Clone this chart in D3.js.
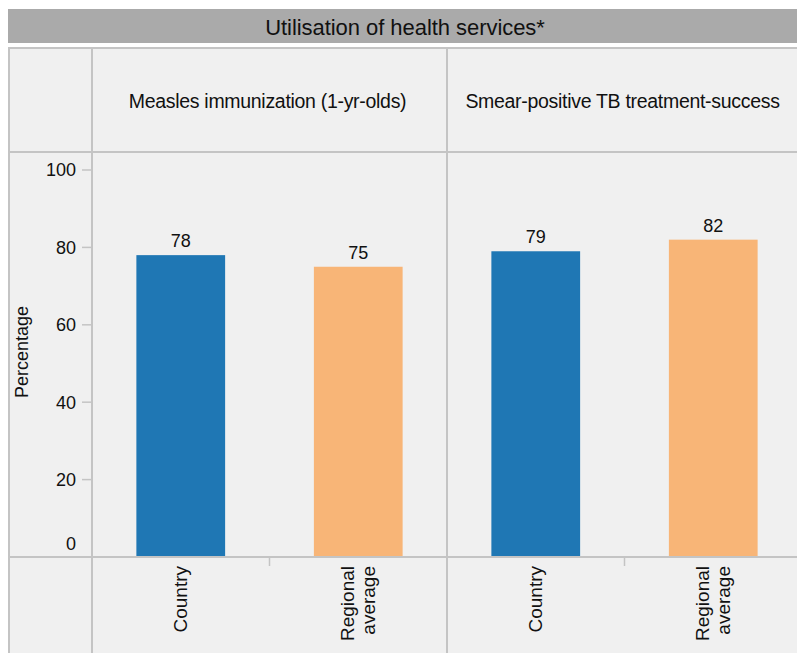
<!DOCTYPE html>
<html>
<head>
<meta charset="utf-8">
<script src="https://cdn.jsdelivr.net/npm/d3@7"></script>
<style>
  body { margin: 0; background: #fff; }
  text { font-family: "Liberation Sans", Arial, sans-serif; fill: #111; }
</style>
</head>
<body>
<div id="chart"></div>
<script>
(function() {
    var width = 797,
        height = 653;

    // data
    var title = 'Utilisation of health services*';
    var panels = ['Measles immunization (1-yr-olds)', 'Smear-positive TB treatment-success'];
    var categories = ['Country', 'Regional average'];
    var values = [[78, 75], [79, 82]];
    var colors = ['#1f77b4', '#f8b577'];
    var yTicks = [0, 20, 40, 60, 80, 100];

    var line_color = '#c4c4c4',
        bg = '#f0f0f0',
        left = 8,
        axis_x = 92,
        panel_w = 355,
        grid_top = 48,
        head_bottom = 152,
        plot_bottom = 557;

    var svg = d3.select('#chart').append('svg')
        .attr('width', width)
        .attr('height', height);

    // background
    svg.append('rect')
        .attr('x', left).attr('y', grid_top)
        .attr('width', width - left).attr('height', height - grid_top)
        .attr('fill', bg);

    // title bar
    svg.append('rect')
        .attr('x', left).attr('y', 9)
        .attr('width', width - left).attr('height', 34)
        .attr('fill', '#aaaaaa');
    svg.append('text')
        .attr('x', 405).attr('y', 27).attr('dy', '0.35em')
        .attr('text-anchor', 'middle')
        .style('font-size', '22px')
        .style('letter-spacing', '-0.05px')
        .text(title);

    var y = d3.scaleLinear().domain([0, 100]).range([plot_bottom, 170]);
    var panelX = d3.scaleBand().domain(panels).range([axis_x, axis_x + panel_w * panels.length]);

    // y axis ticks + labels
    yTicks.forEach(function(t) {
        svg.append('line')
            .attr('x1', axis_x - 10).attr('x2', axis_x)
            .attr('y1', y(t)).attr('y2', y(t))
            .attr('stroke', line_color).attr('stroke-width', 1.5);
        svg.append('text')
            .attr('x', 76)
            .attr('y', t === 0 ? y(t) - 13 : y(t))
            .attr('dy', '0.35em')
            .attr('text-anchor', 'end')
            .style('font-size', '18px')
            .text(t);
    });

    svg.append('text')
        .attr('transform', 'translate(22,352) rotate(-90)')
        .attr('dy', '0.35em')
        .attr('text-anchor', 'middle')
        .style('font-size', '18px')
        .text('Percentage');

    // panels
    panels.forEach(function(p, pi) {
        var x0 = panelX(p);
        var x = d3.scaleBand().domain(categories)
            .range([x0, x0 + panelX.bandwidth()])
            .paddingInner(0.5).paddingOuter(0.25);

        svg.append('text')
            .attr('x', x0 + panelX.bandwidth() / 2 - 2)
            .attr('y', 101).attr('dy', '0.35em')
            .attr('text-anchor', 'middle')
            .style('font-size', '19.5px')
            .style('letter-spacing', '-0.3px')
            .text(p);

        categories.forEach(function(c, ci) {
            var v = values[pi][ci];
            svg.append('rect')
                .attr('x', x(c)).attr('y', y(v))
                .attr('width', x.bandwidth()).attr('height', y(0) - y(v))
                .attr('fill', colors[ci]);
            svg.append('text')
                .attr('x', x(c) + x.bandwidth() / 2)
                .attr('y', y(v) - 8)
                .attr('text-anchor', 'middle')
                .style('font-size', '18px')
                .text(v);

            // category label, rotated
            var words = c.split(' ');
            var cx = x(c) + x.bandwidth() / 2;
            var lab = svg.append('text')
                .attr('transform', 'translate(' + cx + ',' + (plot_bottom + 9) + ') rotate(-90)')
                .attr('text-anchor', 'end')
                .style('font-size', '19px');
            words.forEach(function(w, wi) {
                lab.append('tspan')
                    .attr('x', 0)
                    .attr('y', (wi - (words.length - 1) / 2) * 21)
                    .attr('dy', '0.35em')
                    .text(w);
            });

            // tick between categories
            if (ci === 0) {
                var bx = x0 + panelX.bandwidth() / 2;
                svg.append('line')
                    .attr('x1', bx).attr('x2', bx)
                    .attr('y1', plot_bottom).attr('y2', plot_bottom + 9)
                    .attr('stroke', line_color).attr('stroke-width', 1.5);
            }
        });
    });

    // grid lines
    var vlines = [left + 1, axis_x, axis_x + panel_w];
    vlines.forEach(function(vx) {
        svg.append('line')
            .attr('x1', vx).attr('x2', vx)
            .attr('y1', grid_top).attr('y2', height)
            .attr('stroke', line_color).attr('stroke-width', 2);
    });
    [grid_top, head_bottom, plot_bottom].forEach(function(hy) {
        svg.append('line')
            .attr('x1', left).attr('x2', width)
            .attr('y1', hy).attr('y2', hy)
            .attr('stroke', line_color).attr('stroke-width', 2);
    });
})();
</script>
</body>
</html>
